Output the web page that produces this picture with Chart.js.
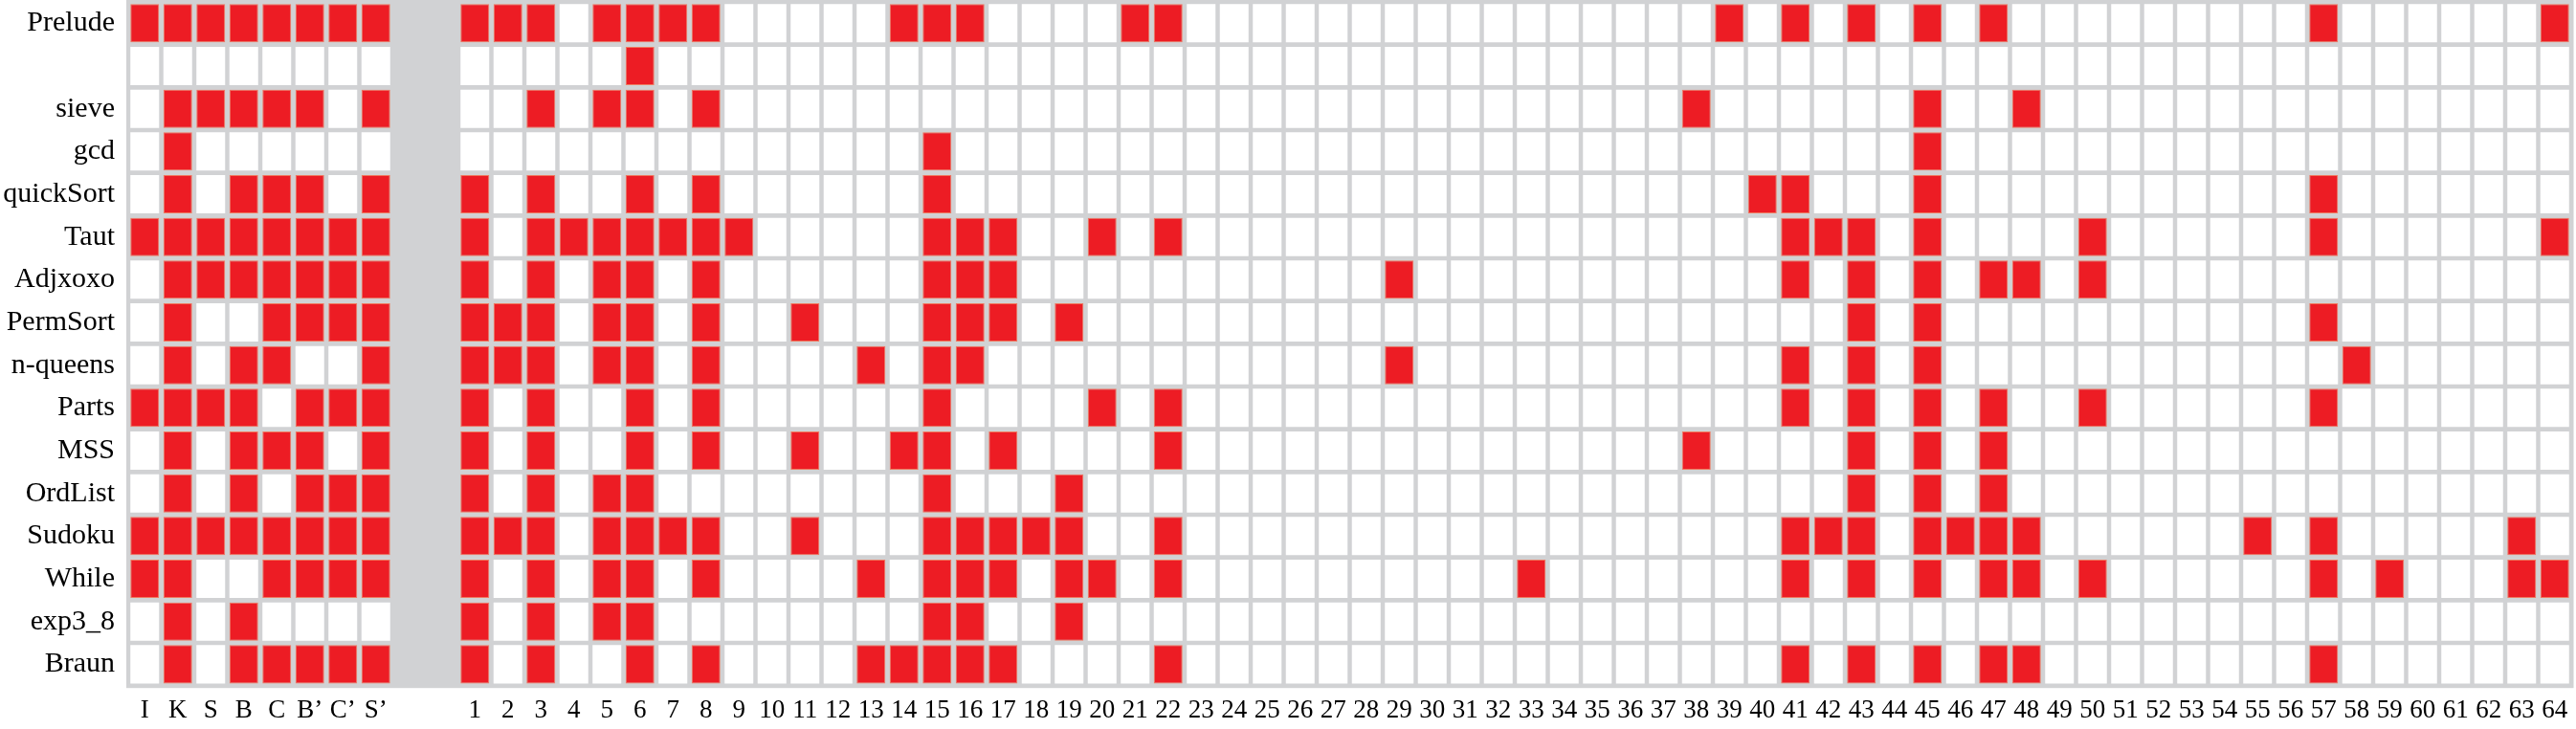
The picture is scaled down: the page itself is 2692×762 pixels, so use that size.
<!DOCTYPE html>
<html>
<head>
<meta charset="utf-8">
<script src="https://cdn.jsdelivr.net/npm/chart.js@4/dist/chart.umd.min.js"></script>
<style>
  html, body { margin: 0; padding: 0; background: #ffffff; }
  #wrap { position: relative; width: 2692px; height: 762px; }
</style>
</head>
<body>
<div id="wrap"><canvas id="c"></canvas></div>
<script>
// ---- data ----
const combinators = ['I', 'K', 'S', 'B', 'C', 'B’', 'C’', 'S’'];
const spacerColumns = ['', ''];
const numberColumns = [1, 2, 3, 4, 5, 6, 7, 8, 9, 10, 11, 12, 13, 14, 15, 16, 17, 18, 19, 20,
  21, 22, 23, 24, 25, 26, 27, 28, 29, 30, 31, 32, 33, 34, 35, 36, 37, 38, 39, 40,
  41, 42, 43, 44, 45, 46, 47, 48, 49, 50, 51, 52, 53, 54, 55, 56, 57, 58, 59, 60,
  61, 62, 63, 64];

const rowLabels = ['Prelude', '', 'sieve', 'gcd', 'quickSort', 'Taut', 'Adjxoxo', 'PermSort',
  'n-queens', 'Parts', 'MSS', 'OrdList', 'Sudoku', 'While', 'exp3_8', 'Braun'];

// marked (red) cells for each row: combinators used, then numbered columns
const markPrelude  = ['I', 'K', 'S', 'B', 'C', 'B’', 'C’', 'S’', 1, 2, 3, 5, 6, 7, 8, 14, 15, 16, 21, 22, 39, 41, 43, 45, 47, 57, 64];
const markBlank    = [6];
const markSieve    = ['K', 'S', 'B', 'C', 'B’', 'S’', 3, 5, 6, 8, 38, 45, 48];
const markGcd      = ['K', 15, 45];
const markQuick    = ['K', 'B', 'C', 'B’', 'S’', 1, 3, 6, 8, 15, 40, 41, 45, 57];
const markTaut     = ['I', 'K', 'S', 'B', 'C', 'B’', 'C’', 'S’', 1, 3, 4, 5, 6, 7, 8, 9, 15, 16, 17, 20, 22, 41, 42, 43, 45, 50, 57, 64];
const markAdjxoxo  = ['K', 'S', 'B', 'C', 'B’', 'C’', 'S’', 1, 3, 5, 6, 8, 15, 16, 17, 29, 41, 43, 45, 47, 48, 50];
const markPermSort = ['K', 'C', 'B’', 'C’', 'S’', 1, 2, 3, 5, 6, 8, 11, 15, 16, 17, 19, 43, 45, 57];
const markQueens   = ['K', 'B', 'C', 'S’', 1, 2, 3, 5, 6, 8, 13, 15, 16, 29, 41, 43, 45, 58];
const markParts    = ['I', 'K', 'S', 'B', 'B’', 'C’', 'S’', 1, 3, 6, 8, 15, 20, 22, 41, 43, 45, 47, 50, 57];
const markMSS      = ['K', 'B', 'C', 'B’', 'S’', 1, 3, 6, 8, 11, 14, 15, 17, 22, 38, 43, 45, 47];
const markOrdList  = ['K', 'B', 'B’', 'C’', 'S’', 1, 3, 5, 6, 15, 19, 43, 45, 47];
const markSudoku   = ['I', 'K', 'S', 'B', 'C', 'B’', 'C’', 'S’', 1, 2, 3, 5, 6, 7, 8, 11, 15, 16, 17, 18, 19, 22, 41, 42, 43, 45, 46, 47, 48, 55, 57, 63];
const markWhile    = ['I', 'K', 'C', 'B’', 'C’', 'S’', 1, 3, 5, 6, 8, 13, 15, 16, 17, 19, 20, 22, 33, 41, 43, 45, 47, 48, 50, 57, 59, 63, 64];
const markExp      = ['K', 'B', 1, 3, 5, 6, 15, 16, 19];
const markBraun    = ['K', 'B', 'C', 'B’', 'C’', 'S’', 1, 3, 6, 8, 13, 14, 15, 16, 17, 22, 41, 43, 45, 47, 48, 57];

const rowMarks = [markPrelude, markBlank, markSieve, markGcd, markQuick, markTaut, markAdjxoxo,
  markPermSort, markQueens, markParts, markMSS, markOrdList, markSudoku, markWhile, markExp, markBraun];

// ---- build chart ----
const columns = [...combinators, ...spacerColumns, ...numberColumns];
const xLabels = columns.map(String);
const RED = '#ed1c24';
const WHITE = '#ffffff';
const GREY = '#d1d2d4';
const CELL = 0.448; // half cell height in row units

const datasets = rowLabels.map((name, r) => {
  const marks = rowMarks[r];
  return {
    label: name || '(blank)',
    data: columns.map(c => (c === '' ? null : [r + 0.5 - CELL, r + 0.5 + CELL])),
    backgroundColor: columns.map(c => (marks.includes(c) ? RED : WHITE)),
    borderColor: columns.map(c => (marks.includes(c) ? '#f0785e' : WHITE)),
    borderWidth: columns.map(c => (marks.includes(c) ? 1 : 0)),
    borderSkipped: false,
    grouped: false,
    categoryPercentage: 1,
    barPercentage: 0.87
  };
});

const gridBackground = {
  id: 'gridBackground',
  beforeDatasetsDraw(chart) {
    const { ctx, chartArea: a } = chart;
    ctx.save();
    ctx.fillStyle = GREY;
    ctx.fillRect(a.left - 2, a.top - 2, a.right - a.left + 4.5, a.bottom - a.top + 4.5);
    ctx.restore();
  }
};

new Chart(document.getElementById('c'), {
  type: 'bar',
  data: { labels: xLabels, datasets },
  options: {
    responsive: true,
    maintainAspectRatio: false,
    animation: false,
    layout: { padding: { top: 2, right: 5, left: 0, bottom: 0 } },
    plugins: { legend: { display: false }, tooltip: { enabled: false } },
    scales: {
      x: {
        type: 'category',
        grid: { display: false, drawTicks: false },
        border: { display: false },
        ticks: {
          autoSkip: false, maxRotation: 0, minRotation: 0, padding: 10,
          color: '#000000',
          font: { family: '"Liberation Serif", "Times New Roman", serif', size: 27 }
        },
        afterFit(scale) {
          scale.height = 45.3;
          scale.paddingLeft = 0; scale.paddingRight = 0;
        }
      },
      y: {
        type: 'linear',
        min: 0, max: 16,
        reverse: true,
        grid: { display: false, drawTicks: false },
        border: { display: false },
        afterBuildTicks(scale) {
          scale.ticks = rowLabels.map((_, i) => ({ value: i + 0.5 }));
        },
        ticks: {
          padding: 14,
          color: '#000000',
          font: { family: '"Liberation Serif", "Times New Roman", serif', size: 30 },
          callback: (v, i) => rowLabels[i]
        },
        afterFit(scale) {
          scale.width = 134;
          scale.paddingTop = 0; scale.paddingBottom = 0;
        }
      }
    }
  },
  plugins: [gridBackground]
});
</script>
</body>
</html>
